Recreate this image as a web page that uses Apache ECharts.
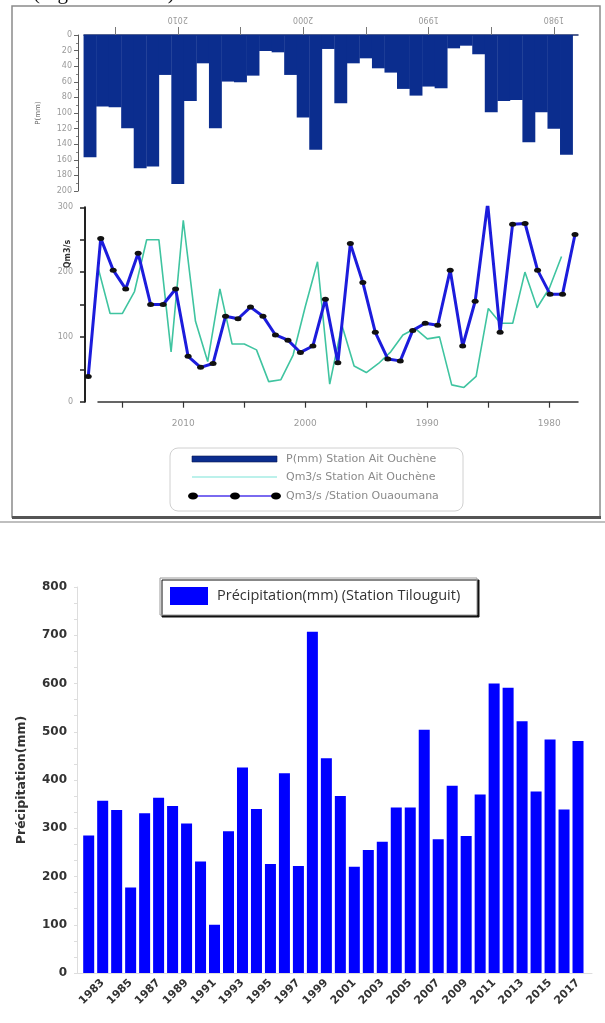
<!DOCTYPE html>
<html>
<head>
<meta charset="utf-8">
<script src="https://cdn.jsdelivr.net/npm/echarts@6/dist/echarts.min.js"></script>
<style>
html,body{margin:0;padding:0;background:#fff;}
#c{width:605px;height:1023px;}
</style>
</head>
<body>
<div id="c"></div>
<script>
// ---- Top figure: Ait Ouchène precipitation (inverted bars), years 2017 -> 1979
const topYears = [2017,2016,2015,2014,2013,2012,2011,2010,2009,2008,2007,2006,2005,2004,2003,2002,2001,2000,1999,1998,1997,1996,1995,1994,1993,1992,1991,1990,1989,1988,1987,1986,1985,1984,1983,1982,1981,1980,1979];
const precipAit = [156.6,91.7,92.6,119.5,170.7,168.5,51.2,191.1,84.5,36.3,119.5,59.7,60.6,52.1,20.5,22.2,51.2,105.8,147.2,17.9,87.5,36.3,29.9,42.7,48.2,69.1,77.7,66.1,68.3,17.1,13.7,24.7,99.0,84.5,83.2,137.4,99.0,120.3,153.6];

// ---- Discharge Ait Ouchène (teal), years 2017 -> 1979
const qAit = [208,136,136,170,250,250,77,280,124,62,174,89,89,80,31,34,72,147,216,27,118,55,45,59,77,103,113,97,100,26,22,39,144,121,121,200,145,175,224];

// ---- Discharge Ouaoumana (blue with dots), years 2017 -> 1978
const blueYears = [2017,2016,2015,2014,2013,2012,2011,2010,2009,2008,2007,2006,2005,2004,2003,2002,2001,2000,1999,1998,1997,1996,1995,1994,1993,1992,1991,1990,1989,1988,1987,1986,1985,1984,1983,1982,1981,1980,1979,1978];
const qOuaoumana = [39,252,203,174,229,150,150,174,70,53,59,132,128,146,132,103,95,76,86,158,60,244,184,107,66,63,110,121,118,203,86,155,306,107,274,275,203,166,166,258];

// ---- Bottom figure: Tilouguit precipitation, 1982 -> 2017
const tilYears = [1982,1983,1984,1985,1986,1987,1988,1989,1990,1991,1992,1993,1994,1995,1996,1997,1998,1999,2000,2001,2002,2003,2004,2005,2006,2007,2008,2009,2010,2011,2012,2013,2014,2015,2016,2017];
const precipTil = [285,357,338,177,331,363,346,310,231,100,294,426,340,226,414,222,707,445,367,220,255,272,343,343,504,277,388,284,370,600,591,522,376,484,339,481];

const topTicks = [1980,1985,1990,1995,2000,2005,2010,2015];
const topLabels = [1980,1990,2000,2010];
const tilLabels = [1983,1985,1987,1989,1991,1993,1995,1997,1999,2001,2003,2005,2007,2009,2011,2013,2015,2017];

const pair = (xs, ys) => ys.map((v, i) => [xs[i], v]);
const plain = v => String(Math.round(v));

const chart = echarts.init(document.getElementById('c'), null, {renderer: 'canvas'});

const greyTxt = '#9a9a9a';
const option = {
  animation: false,
  backgroundColor: '#fff',
  grid: [
    {left: 84, right: 27, top: 35, height: 156},
    {left: 85, right: 25, top: 207.3, height: 194.4},
    {left: 98, right: 27, top: 207.3, height: 194.4},
    {left: 77, right: 13, top: 587, height: 386}
  ],
  xAxis: [
    {
      gridIndex: 0, type: 'value', position: 'top', inverse: true,
      min: 1978.08, max: 2017.48,
      axisLine: {show: true, lineStyle: {color: '#1b2f6e', width: 1.5}},
      axisTick: {show: true, customValues: topTicks, length: 8, lineStyle: {color: '#777'}},
      axisLabel: {customValues: topLabels, rotate: 180, fontSize: 8, color: greyTxt, margin: 12, fontFamily: 'DejaVu Sans', formatter: plain},
      splitLine: {show: false}
    },
    {
      gridIndex: 1, type: 'value', inverse: true, min: 1977.6, max: 2017.26, show: false
    },
    {
      gridIndex: 2, type: 'value', inverse: true, min: 1977.65, max: 2016.99,
      axisLine: {show: true, lineStyle: {color: '#333', width: 1.5}},
      axisTick: {show: true, customValues: topTicks, length: 6, lineStyle: {color: '#333', width: 1.2}},
      axisLabel: {customValues: topLabels, fontSize: 9, color: greyTxt, margin: 17, fontFamily: 'DejaVu Sans', formatter: plain},
      splitLine: {show: false}
    },
    {
      gridIndex: 3, type: 'value', min: 1981.163, max: 2018.0,
      axisLine: {show: true, lineStyle: {color: '#dddddd', width: 1}},
      axisTick: {show: false},
      axisLabel: {customValues: tilLabels, rotate: 45, fontSize: 11, fontWeight: 'bold', color: '#333', margin: 8, fontFamily: 'DejaVu Sans', formatter: plain},
      splitLine: {show: false}
    }
  ],
  yAxis: [
    {
      gridIndex: 0, type: 'value', inverse: true, min: 0, max: 200, interval: 20, offset: 6,
      axisLine: {show: true, lineStyle: {color: '#555', width: 1}},
      axisTick: {show: true, length: 4, lineStyle: {color: '#666'}},
      minorTick: {show: true, splitNumber: 2, length: 2, lineStyle: {color: '#888'}},
      axisLabel: {fontSize: 8, color: greyTxt, margin: 6, fontFamily: 'DejaVu Sans'},
      splitLine: {show: false},
      name: 'P(mm)', nameLocation: 'middle', nameGap: 36, nameRotate: 90,
      nameTextStyle: {fontSize: 7, color: '#666', fontFamily: 'DejaVu Sans'}
    },
    {
      gridIndex: 1, type: 'value', min: 0, max: 300, interval: 50,
      axisLine: {show: true, lineStyle: {color: '#222', width: 2}},
      axisTick: {show: true, length: 5, lineStyle: {color: '#222', width: 1.5}},
      axisLabel: {fontSize: 8, color: greyTxt, margin: 12, fontFamily: 'DejaVu Sans',
        formatter: v => (v % 100 === 0 ? String(v) : '')},
      splitLine: {show: false}
    },
    {
      gridIndex: 2, type: 'value', min: 0, max: 300, show: false
    },
    {
      gridIndex: 3, type: 'value', min: 0, max: 800, interval: 100,
      axisLine: {show: true, lineStyle: {color: '#dddddd', width: 1}},
      axisTick: {show: true, length: 3, lineStyle: {color: '#dddddd'}},
      minorTick: {show: true, splitNumber: 3, length: 3, lineStyle: {color: '#dddddd'}},
      axisLabel: {fontSize: 12, fontWeight: 'bold', color: '#333', margin: 10, fontFamily: 'DejaVu Sans'},
      splitLine: {show: false},
      name: 'Précipitation(mm)', nameLocation: 'middle', nameGap: 49, nameRotate: 90,
      nameTextStyle: {fontSize: 12.5, fontWeight: 'bold', color: '#333', fontFamily: 'DejaVu Sans'}
    }
  ],
  series: [
    {
      name: 'P(mm) Station Ait Ouchène', type: 'bar', xAxisIndex: 0, yAxisIndex: 0,
      data: pair(topYears, precipAit), barWidth: 12.9,
      itemStyle: {color: '#0b2d8e'}
    },
    {
      name: 'Qm3/s /Station Ouaoumana', type: 'line', xAxisIndex: 1, yAxisIndex: 1,
      data: pair(blueYears, qOuaoumana),
      lineStyle: {color: '#1c1cdc', width: 3},
      symbol: 'circle', symbolSize: [7, 5], itemStyle: {color: '#111'}, z: 4
    },
    {
      name: 'Qm3/s Station Ait Ouchène', type: 'line', xAxisIndex: 2, yAxisIndex: 2,
      data: pair(topYears, qAit),
      lineStyle: {color: '#3fc4a0', width: 1.6},
      symbol: 'none', z: 3
    },
    {
      name: 'Précipitation(mm) (Station Tilouguit)', type: 'bar', xAxisIndex: 3, yAxisIndex: 3,
      data: pair(tilYears, precipTil), barWidth: 11,
      itemStyle: {color: '#0000ff'}
    }
  ],
  graphic: [
    // cropped caption above the figure
    {type: 'text', left: 33, top: -17, style: {text: '(Figure 13 et 14)', font: '21px "Liberation Serif"', fill: '#111'}, silent: true},
    // top figure frame
    {type: 'rect', shape: {x: 12, y: 6, width: 588, height: 511}, style: {fill: 'none', stroke: '#8a8a8a', lineWidth: 1.5}, silent: true},
    {type: 'line', shape: {x1: 12, y1: 517.5, x2: 601, y2: 517.5}, style: {stroke: '#555', lineWidth: 3}, silent: true},
    {type: 'line', shape: {x1: 0, y1: 522, x2: 605, y2: 522}, style: {stroke: '#aaa', lineWidth: 1.5}, silent: true},
    // y-axis title of discharge
    {type: 'text', x: 68, y: 254, rotation: Math.PI / 2,
      style: {text: 'Qm3/s', font: 'bold 8px "DejaVu Sans"', fill: '#333', align: 'center', verticalAlign: 'middle'}, silent: true},
    // top legend
    {type: 'rect', shape: {x: 170, y: 448, width: 293, height: 63, r: 8}, style: {fill: 'none', stroke: '#d0d0d0', lineWidth: 1}, silent: true},
    {type: 'rect', shape: {x: 192, y: 456, width: 85, height: 6}, style: {fill: '#0b2d8e', stroke: '#0a1a50', lineWidth: 0.6}, silent: true},
    {type: 'text', x: 286, y: 459, style: {text: 'P(mm) Station Ait Ouchène', font: '11px "DejaVu Sans"', fill: '#8a8a8a', verticalAlign: 'middle'}, silent: true},
    {type: 'line', shape: {x1: 192, y1: 477, x2: 277, y2: 477}, style: {stroke: '#a6ece4', lineWidth: 1.6}, silent: true},
    {type: 'text', x: 286, y: 477, style: {text: 'Qm3/s Station Ait Ouchène', font: '11px "DejaVu Sans"', fill: '#8a8a8a', verticalAlign: 'middle'}, silent: true},
    {type: 'line', shape: {x1: 192, y1: 496, x2: 277, y2: 496}, style: {stroke: '#7a6af0', lineWidth: 2}, silent: true},
    {type: 'ellipse', shape: {cx: 193, cy: 496, rx: 5, ry: 3.5}, style: {fill: '#000'}, silent: true},
    {type: 'ellipse', shape: {cx: 235, cy: 496, rx: 5, ry: 3.5}, style: {fill: '#000'}, silent: true},
    {type: 'ellipse', shape: {cx: 276, cy: 496, rx: 5, ry: 3.5}, style: {fill: '#000'}, silent: true},
    {type: 'text', x: 286, y: 496, style: {text: 'Qm3/s /Station Ouaoumana', font: '11px "DejaVu Sans"', fill: '#8a8a8a', verticalAlign: 'middle'}, silent: true},
    // bottom legend
    {type: 'rect', shape: {x: 160, y: 578, width: 317, height: 37},
      style: {fill: '#fff', stroke: '#9a9a9a', lineWidth: 1, shadowColor: '#111', shadowOffsetX: 2, shadowOffsetY: 2, shadowBlur: 0}, silent: true},
    {type: 'rect', shape: {x: 170, y: 587, width: 38, height: 18}, style: {fill: '#0000ff'}, silent: true},
    {type: 'text', x: 217, y: 596, style: {text: 'Précipitation(mm) (Station Tilouguit)', font: '14.5px "Open Sans"', fill: '#333', verticalAlign: 'middle'}, silent: true}
  ]
};
chart.setOption(option);
</script>
</body>
</html>
